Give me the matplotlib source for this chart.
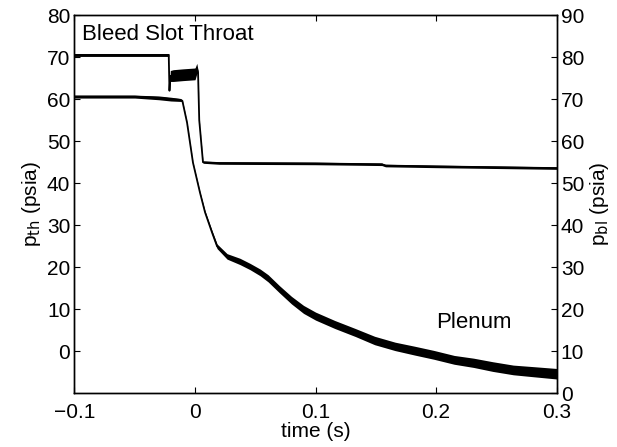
import numpy as np
import matplotlib
matplotlib.use('Agg')
from matplotlib import pyplot as plt

plt.rcParams['font.family'] = ['Liberation Sans', 'DejaVu Sans']

# bleed slot throat pressure (left axis, psia)
throat_t = [-0.1, -0.0218, -0.0212, -0.0205, -0.018, -0.01, 0.0, 0.0015, 0.0025,
            0.0035, 0.0066, 0.02, 0.1, 0.155, 0.158, 0.2, 0.3]
throat_p = [70.5, 70.5, 62.0, 65.5, 65.6, 65.8, 66.0, 67.3, 66.4,
            55.0, 45.0, 44.8, 44.7, 44.5, 44.2, 44.0, 43.6]
throat_spread = [0.7, 0.7, 0.4, 2.6, 2.8, 2.8, 2.8, 2.4, 1.0,
                 0.3, 0.5, 0.6, 0.6, 0.6, 0.6, 0.6, 0.6]

# plenum pressure (right axis, psia)
plenum_t = [-0.1, -0.05, -0.03, -0.02, -0.012, -0.0105, -0.0066, -0.0017, 0.0041,
            0.0083, 0.0141, 0.0183, 0.0266, 0.0373, 0.0456, 0.054, 0.0606, 0.07,
            0.08, 0.09, 0.1, 0.116, 0.133, 0.149, 0.166, 0.182, 0.198, 0.215,
            0.231, 0.247, 0.264, 0.28, 0.3]
plenum_p = [70.6, 70.6, 70.3, 70.0, 69.8, 69.6, 64.4, 54.9, 47.8,
            43.1, 38.3, 35.0, 32.6, 31.4, 30.2, 28.8, 27.4, 24.8,
            22.2, 20.0, 18.4, 16.4, 14.5, 12.6, 11.2, 10.2, 9.2, 8.0,
            7.3, 6.4, 5.6, 5.2, 4.7]
plenum_spread = [0.7, 0.7, 0.9, 0.9, 0.7, 0.3, 0.2, 0.2, 0.3,
                 0.6, 0.9, 1.1, 1.3, 1.5, 1.5, 1.6, 1.7, 1.7,
                 1.8, 1.9, 1.9, 1.9, 1.9, 2.0, 2.0, 2.1, 2.1, 2.1,
                 2.2, 2.3, 2.3, 2.4, 2.5]

fig = plt.figure(figsize=(6.17, 4.47), dpi=100)
ax = fig.add_axes([0.1207, 0.1197, 0.7815, 0.8467])
ax2 = ax.twinx()

tt, tp, ts = map(np.array, (throat_t, throat_p, throat_spread))
ax.fill_between(tt, tp - ts / 2, tp + ts / 2, color='k', lw=0)
ax.plot(tt, tp, color='k', lw=1.3)

pt, pp, ps = map(np.array, (plenum_t, plenum_p, plenum_spread))
ax2.fill_between(pt, pp - ps / 2, pp + ps / 2, color='k', lw=0)
ax2.plot(pt, pp, color='k', lw=1.3)

ax.set_xlim(-0.1, 0.3)
ax.set_ylim(-10, 80)
ax2.set_ylim(0, 90)
ax.set_xticks([-0.1, 0, 0.1, 0.2, 0.3])
ax.set_xticklabels(['\u22120.1', '0', '0.1', '0.2', '0.3'])
ax.set_yticks(range(0, 81, 10))
ax2.set_yticks(range(0, 91, 10))

ax.tick_params(axis='x', direction='in', top=True, length=4, labelsize=15, pad=7)
ax.tick_params(axis='y', direction='in', length=4, labelsize=15, pad=3)
ax2.tick_params(axis='y', direction='in', length=4, labelsize=15, pad=3)
for a in (ax, ax2):
    for s in a.spines.values():
        s.set_linewidth(1.0)

ax.set_xlabel('time (s)', fontsize=15, labelpad=0)
ax.set_ylabel('p$_{\\rm th}$ (psia)', fontsize=15, labelpad=3)
ax2.set_ylabel('p$_{\\rm bl}$ (psia)', fontsize=15, labelpad=3, rotation=90)

ax.text(-0.0935, 75.3, 'Bleed Slot Throat', fontsize=16, va='center', ha='left')
ax.text(0.2003, 6.9, 'Plenum', fontsize=16, va='center', ha='left')

fig.savefig('out.png', dpi=100)
